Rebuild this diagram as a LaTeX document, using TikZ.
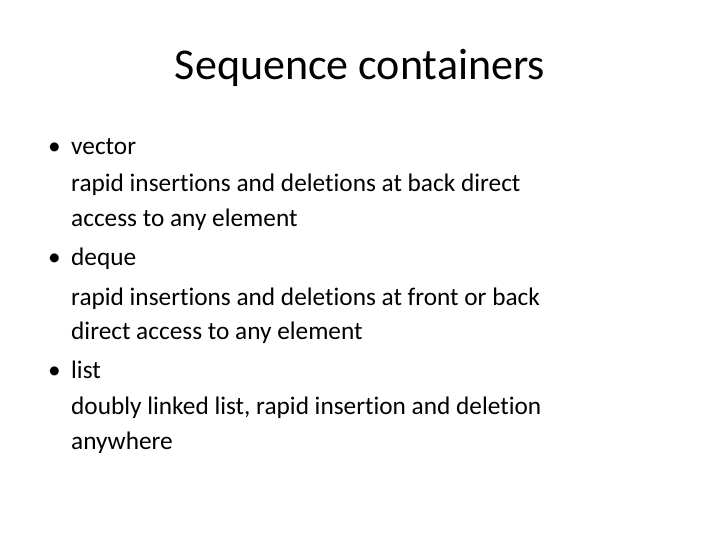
\documentclass[tikz,border=0pt]{standalone}
\usepackage{fontspec}
\setmainfont[Ligatures=NoCommon]{Carlito}
\begin{document}
\begin{tikzpicture}[x=1pt,y=-1pt,
  body/.style={anchor=base west,inner sep=0pt,font=\fontsize{25.3}{30}\selectfont},
  bul/.style={anchor=base west,inner sep=0pt,font=\fontsize{25.3}{30}\selectfont}]
\useasboundingbox (0,0) rectangle (720,540);
\node[inner sep=0pt,anchor=base,font=\fontsize{44}{50}\selectfont] (title) at (360,80) {Sequence containers};
\node[bul] (b1) at (48,155) {•};
\node[body] (l1) at (71,155) {vector};
\node[body] (l2) at (71,192) {rapid insertions and deletions at back direct};
\node[body] (l3) at (71,226) {access to any element};
\node[bul] (b2) at (48,265) {•};
\node[body] (l4) at (71,265) {deque};
\node[body] (l5) at (71,305) {rapid insertions and deletions at front or back};
\node[body] (l6) at (71,339) {direct access to any element};
\node[bul] (b3) at (48,378) {•};
\node[body] (l7) at (71,378) {list};
\node[body] (l8) at (71,414) {doubly linked list, rapid insertion and deletion};
\node[body] (l9) at (71,449) {anywhere};
\end{tikzpicture}
\end{document}
